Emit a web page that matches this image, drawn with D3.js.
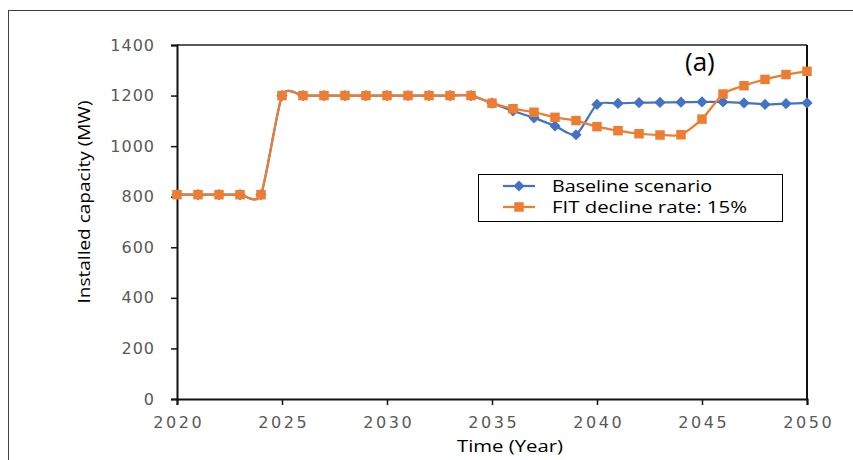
<!DOCTYPE html>
<html><head><meta charset="utf-8">
<script src="https://cdn.jsdelivr.net/npm/d3@7"></script>
<style>body{margin:0;background:#fff}svg{display:block}</style>
</head><body>
<svg id="c" width="853" height="460"></svg>
<script>
const years = d3.range(2020, 2051);
const baseline = [808,808,808,808,808,1200,1200,1200,1200,1200,1200,1200,1200,1200,1200,1170,1139,1112,1080,1045,1165,1169,1172,1173,1174,1175,1175,1171,1165,1168,1171];
const fit15 = [808,808,808,808,808,1200,1200,1200,1200,1200,1200,1200,1200,1200,1200,1170,1148,1134,1114,1101,1077,1061,1049,1044,1045,1107,1206,1239,1264,1283,1296];
const yTicks = [0,200,400,600,800,1000,1200,1400];
const xTicks = [2020,2025,2030,2035,2040,2045,2050];
const seriesNames = ["Baseline scenario","FIT decline rate: 15%"];
const colors = ["#4472C4","#ED7D31"];

const svg = d3.select("#c");
const L=177,R=807,T=45,B=399;
const x = d3.scaleLinear().domain([2020,2050]).range([L,R]);
const y = d3.scaleLinear().domain([0,1400]).range([B,T]);

// outer frame
svg.append("rect").attr("x",8.5).attr("y",10.5).attr("width",860).attr("height",470)
  .attr("fill","none").attr("stroke","#404040").attr("stroke-width",1);

// plot frame top/right
svg.append("line").attr("x1",L).attr("x2",R).attr("y1",T).attr("y2",T).attr("stroke","#222").attr("stroke-width",1.5);
svg.append("line").attr("x1",R).attr("x2",R).attr("y1",T).attr("y2",B).attr("stroke","#111").attr("stroke-width",2);

// axes
const ya = svg.append("g").attr("transform",`translate(${L},0)`)
  .call(d3.axisLeft(y).tickValues(yTicks).tickSize(6).tickPadding(16).tickFormat(d3.format("d")));
const xa = svg.append("g").attr("transform",`translate(0,${B})`)
  .call(d3.axisBottom(x).tickValues(xTicks).tickSize(6).tickPadding(12).tickFormat(d3.format("d")));
[ya,xa].forEach(a=>{
  a.select(".domain").attr("stroke","#111").attr("stroke-width",2);
  a.selectAll(".tick line").attr("stroke","#111").attr("stroke-width",1.5);
  a.selectAll("text").attr("fill","#595959").attr("font-family","DejaVu Sans").attr("font-size",16);
});
ya.selectAll("text").attr("letter-spacing",1);
xa.selectAll("text").attr("letter-spacing",2.6).attr("dx",1.3);

// axis titles
svg.append("text").attr("transform","translate(90,202) rotate(-90)").attr("text-anchor","middle")
  .attr("font-family","Open Sans").attr("font-size",16).attr("fill","#000")
  .attr("textLength",203).attr("lengthAdjust","spacingAndGlyphs").text("Installed capacity (MW)");
svg.append("text").attr("x",510).attr("y",452).attr("text-anchor","middle")
  .attr("font-family","Open Sans").attr("font-size",16).attr("fill","#000")
  .attr("textLength",106).attr("lengthAdjust","spacingAndGlyphs").text("Time (Year)");

svg.append("text").attr("x",685).attr("y",71).attr("font-family","Open Sans").attr("font-size",26).attr("fill","#000").text("(a)");

const line = d3.line().x((d,i)=>x(years[i])).y(d=>y(d)).curve(d3.curveCardinal.tension(0.35));
const data=[baseline,fit15];
const diamond = d3.symbol().type(d3.symbolDiamond2).size(80);
const square = d3.symbol().type(d3.symbolSquare).size(90);

data.forEach((s,k)=>{
  svg.append("path").attr("d",line(s)).attr("fill","none").attr("stroke",colors[k]).attr("stroke-width",2.25);
  svg.append("g").selectAll("path").data(s).join("path")
    .attr("transform",(d,i)=>`translate(${x(years[i])},${y(d)})`)
    .attr("d",k===0?diamond():square()).attr("fill",colors[k]);
});

// legend
const lg = svg.append("g");
lg.append("rect").attr("x",478.5).attr("y",174.5).attr("width",304).attr("height",47)
  .attr("fill","#fff").attr("stroke","#000").attr("stroke-width",1);
const legY=[186,207];
seriesNames.forEach((n,k)=>{
  lg.append("line").attr("x1",503).attr("x2",535).attr("y1",legY[k]).attr("y2",legY[k]).attr("stroke",colors[k]).attr("stroke-width",2.25);
  lg.append("path").attr("transform",`translate(519,${legY[k]})`).attr("d",k===0?diamond():square()).attr("fill",colors[k]);
  lg.append("text").attr("x",552).attr("y",legY[k]+6).attr("font-family","Open Sans").attr("font-size",16).attr("fill","#000")
    .attr("textLength",k===0?160:195).attr("lengthAdjust","spacingAndGlyphs").text(n);
});
</script>
</body></html>
